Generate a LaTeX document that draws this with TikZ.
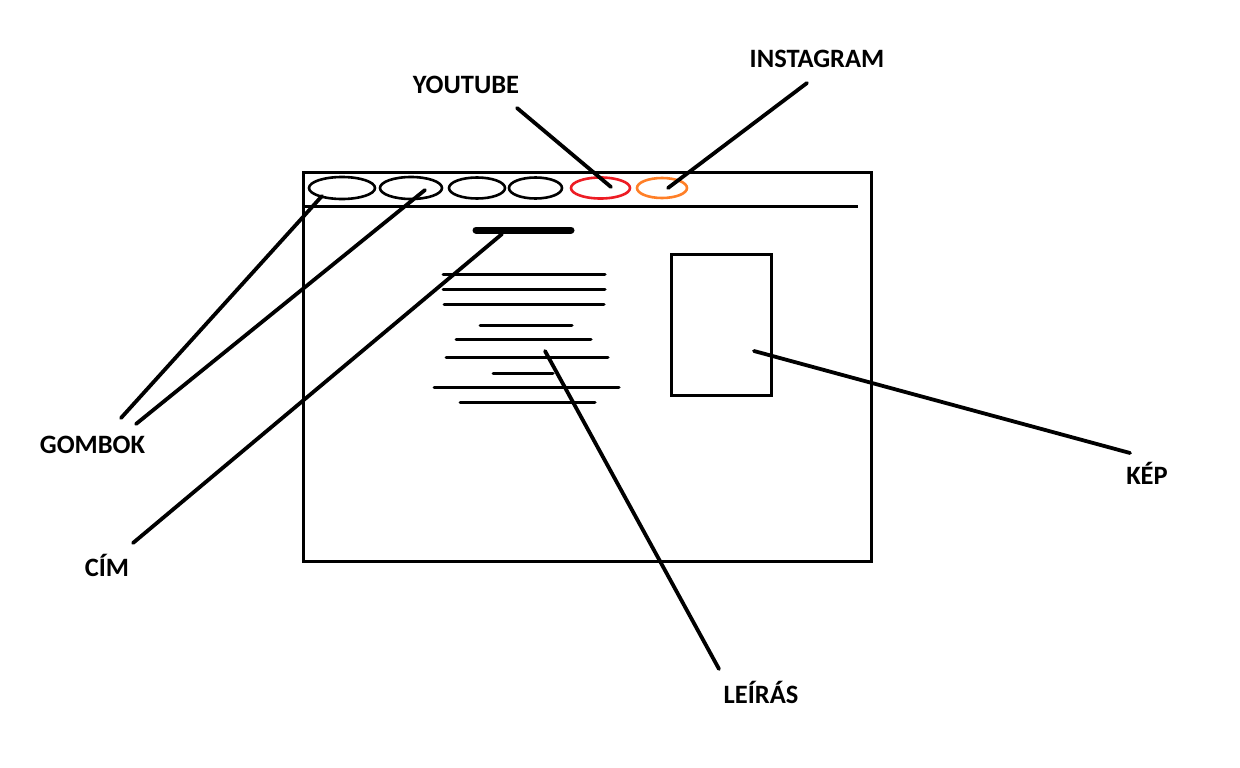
\documentclass[tikz,border=0pt]{standalone}
\usepackage{fontspec}
\setmainfont{Carlito}
\definecolor{pred}{RGB}{237,28,36}
\definecolor{porange}{RGB}{255,127,39}
\begin{document}
\begin{tikzpicture}[x=1pt,y=-1pt,
  lbl/.style={font=\bfseries\fontsize{26.5}{29}\selectfont, inner sep=0pt, anchor=center},
  conn/.style={line width=3.8pt, line cap=round},
  txt/.style={line width=3pt, line cap=round}]
\useasboundingbox (0,0) rectangle (1240,768);
\fill[white] (0,0) rectangle (1240,768);
% window
\draw[line width=3pt] (303,172) rectangle (871,561);
\draw[line width=3pt] (302,206) -- (858,206);
% buttons
\draw[line width=2.6pt] (342,188) ellipse [x radius=33, y radius=11];
\draw[line width=2.6pt] (411,188) ellipse [x radius=31, y radius=11];
\draw[line width=2.6pt] (477,188) ellipse [x radius=28, y radius=10.5];
\draw[line width=2.6pt] (535.5,188) ellipse [x radius=26.5, y radius=10.5];
\draw[line width=2.6pt, pred] (600.5,188) ellipse [x radius=29.5, y radius=10.5];
\draw[line width=2.6pt, porange] (662,188) ellipse [x radius=25, y radius=10];
% title bar
\draw[line width=7pt, line cap=round] (476,230) -- (571,230);
% text lines
\draw[txt] (443,274) -- (605,274);
\draw[txt] (443,289) -- (605,289);
\draw[txt] (444,304) -- (604,304);
\draw[txt] (480,325) -- (572,325);
\draw[txt] (456,339) -- (591,339);
\draw[txt] (446,357) -- (608,357);
\draw[txt] (493,373) -- (553,373);
\draw[txt] (434,387) -- (619,387);
\draw[txt] (460,402) -- (595,402);
% picture
\draw[line width=3pt] (671,254) rectangle (771,395);
% labels
\node[lbl] (youtube) at (466,85) {YOUTUBE};
\node[lbl] (instagram) at (817,59) {INSTAGRAM};
\node[lbl] (gombok) at (92.5,445) {GOMBOK};
\node[lbl] (cim) at (107,565) {CÍM};
\node[lbl] (kep) at (1147,473) {KÉP};
\node[lbl] (leiras) at (761,692) {LEÍRÁS};
% connector endpoints
\coordinate (yt1) at (517,108);  \coordinate (yt2) at (611,187);
\coordinate (ig1) at (807,83);   \coordinate (ig2) at (668,188);
\coordinate (g1a) at (121,418);  \coordinate (g1b) at (322,196);
\coordinate (g2a) at (136,424);  \coordinate (g2b) at (425,190);
\coordinate (c1) at (133,543);   \coordinate (c2) at (502,234);
\coordinate (k1) at (1130,453);  \coordinate (k2) at (754,351);
\coordinate (l1) at (719,669);   \coordinate (l2) at (545,351);
\draw[conn] (yt1) -- (yt2);
\draw[conn] (ig1) -- (ig2);
\draw[conn] (g1a) -- (g1b);
\draw[conn] (g2a) -- (g2b);
\draw[conn] (c1) -- (c2);
\draw[conn] (k1) -- (k2);
\draw[conn] (l1) -- (l2);
\end{tikzpicture}
\end{document}
